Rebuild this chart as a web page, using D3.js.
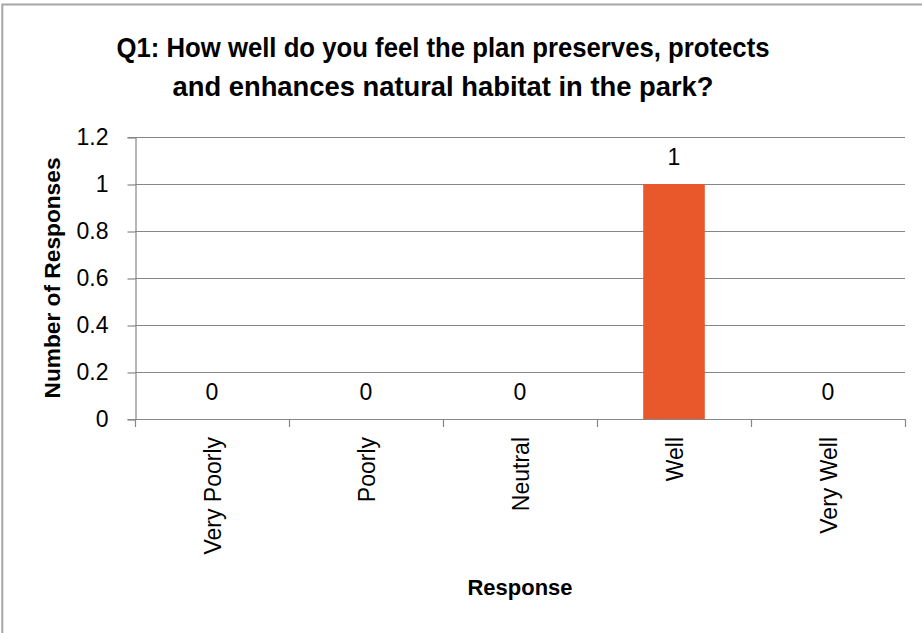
<!DOCTYPE html>
<html>
<head>
<meta charset="utf-8">
<script src="https://cdn.jsdelivr.net/npm/d3@7"></script>
<style>
  html, body { margin: 0; padding: 0; background: #fff; }
  svg { display: block; }
  text { font-family: "Liberation Sans", Arial, sans-serif; fill: #000; }
</style>
</head>
<body>
<svg id="chart" width="922" height="633"></svg>
<script>
const categories = ["Very Poorly", "Poorly", "Neutral", "Well", "Very Well"];
const values = [0, 0, 0, 1, 0];
const yTicks = [0, 0.2, 0.4, 0.6, 0.8, 1, 1.2];
const titleLines = ["Q1: How well do you feel the plan preserves, protects", "and enhances natural habitat in the park?"];
const xTitle = "Response";
const yTitle = "Number of Responses";

(function () {
const svg = d3.select("#chart");
const pLeft = 135, pRight = 905, pTop = 137, pBottom = 419;
const gridColor = "#868686";
const tickFont = 23;

// outer border
svg.append("rect")
  .attr("x", 2.3).attr("y", 4.5).attr("width", 940).attr("height", 660)
  .attr("fill", "none").attr("stroke", "#a6a6a6").attr("stroke-width", 2);

const y = d3.scaleLinear().domain([0, 1.2]).range([pBottom, pTop]);
const xEdge = d3.scaleBand().domain(categories).range([pLeft, pRight]).padding(0);
const x = d3.scaleBand().domain(categories).range([pLeft, pRight]).paddingInner(0.6).paddingOuter(0.3);

// gridlines
svg.append("g").selectAll("line").data(yTicks.filter(d => d > 0)).join("line")
  .attr("x1", pLeft).attr("x2", pRight)
  .attr("y1", d => Math.round(y(d)) + 0.5).attr("y2", d => Math.round(y(d)) + 0.5)
  .attr("stroke", gridColor).attr("stroke-width", 1.2);

// y axis
const yAxis = svg.append("g").attr("transform", `translate(${pLeft + 0.5},0)`)
  .call(d3.axisLeft(y).tickValues(yTicks).tickSize(8).tickPadding(19).tickFormat(d => String(+d.toFixed(1))));
yAxis.select(".domain").attr("stroke", gridColor).attr("stroke-width", 1.2);
yAxis.selectAll(".tick line").attr("stroke", gridColor).attr("stroke-width", 1.2)
  .attr("transform", d => `translate(0,${Math.round(y(d)) + 0.5 - y(d)})`);
yAxis.selectAll(".tick text").attr("font-size", tickFont).attr("font-family", "Liberation Sans, Arial, sans-serif").attr("fill", "#000");

// bars
svg.append("g").selectAll("rect").data(categories).join("rect")
  .attr("x", (d) => x(d))
  .attr("width", x.bandwidth())
  .attr("y", (d, i) => y(values[i]))
  .attr("height", (d, i) => y(0) - y(values[i]))
  .attr("fill", "#E8582A");

// x axis
const xAxisG = svg.append("g");
xAxisG.append("line")
  .attr("x1", pLeft).attr("x2", pRight)
  .attr("y1", pBottom + 0.5).attr("y2", pBottom + 0.5)
  .attr("stroke", gridColor).attr("stroke-width", 1.2);
const edges = categories.map(d => xEdge(d)).concat([pRight]);
xAxisG.selectAll("line.tick").data(edges).join("line").attr("class", "tick")
  .attr("x1", d => Math.round(d) + 0.5).attr("x2", d => Math.round(d) + 0.5)
  .attr("y1", pBottom).attr("y2", pBottom + 8)
  .attr("stroke", gridColor).attr("stroke-width", 1.2);
xAxisG.selectAll("text").data(categories).join("text")
  .attr("transform", d => `translate(${x(d) + x.bandwidth() / 2 + 9},437) rotate(-90)`)
  .attr("text-anchor", "end")
  .attr("font-size", tickFont)
  .text(d => d);

// data labels
svg.append("g").selectAll("text").data(categories).join("text")
  .attr("x", d => x(d) + x.bandwidth() / 2)
  .attr("y", (d, i) => y(values[i]) - 19)
  .attr("text-anchor", "middle")
  .attr("font-size", tickFont)
  .text((d, i) => values[i]);

// title
const titleW = [653, 541];
svg.append("g").selectAll("text").data(titleLines).join("text")
  .attr("x", 443).attr("y", (d, i) => 57 + i * 39)
  .attr("text-anchor", "middle")
  .attr("font-size", 28.5).attr("font-weight", "bold")
  .attr("textLength", (d, i) => titleW[i]).attr("lengthAdjust", "spacingAndGlyphs")
  .text(d => d);

// axis titles
svg.append("text")
  .attr("x", (pLeft + pRight) / 2).attr("y", 595)
  .attr("text-anchor", "middle").attr("font-size", 22).attr("font-weight", "bold")
  .attr("textLength", 105).attr("lengthAdjust", "spacingAndGlyphs")
  .text(xTitle);
svg.append("text")
  .attr("transform", `translate(60,${(pTop + pBottom) / 2}) rotate(-90)`)
  .attr("text-anchor", "middle").attr("font-size", 22).attr("font-weight", "bold")
  .attr("textLength", 241).attr("lengthAdjust", "spacingAndGlyphs")
  .text(yTitle);
})();
</script>
</body>
</html>
